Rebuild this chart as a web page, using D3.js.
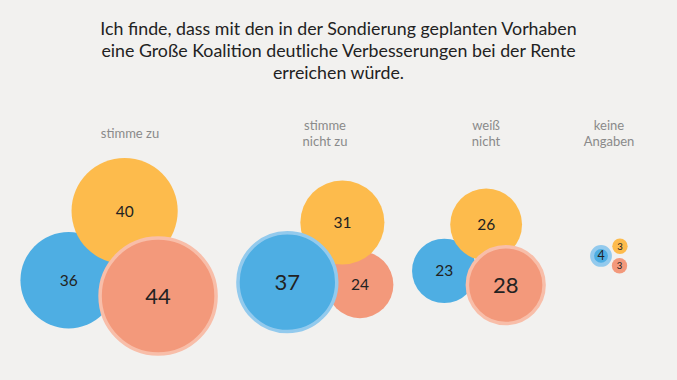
<!DOCTYPE html>
<html>
<head>
<meta charset="utf-8">
<script src="https://cdn.jsdelivr.net/npm/d3@7"></script>
<style>
  html, body { margin: 0; padding: 0; background: #f2f1ef; }
  svg { display: block; font-family: Lato, "Noto Sans", sans-serif; }
</style>
</head>
<body>
<div id="chart"></div>
<script>
// answers (columns)
const categories = ['stimme zu', 'stimme nicht zu', 'weiß nicht', 'keine Angaben'];
const categoryLines = [['stimme zu'], ['stimme', 'nicht zu'], ['weiß', 'nicht'], ['keine', 'Angaben']];

// three series, one value per answer
const blau = [36, 37, 23, 4];
const gelb = [40, 31, 26, 3];
const rot = [44, 24, 28, 3];

const titleLines = [
  'Ich finde, dass mit den in der Sondierung geplanten Vorhaben',
  'eine Große Koalition deutliche Verbesserungen bei der Rente',
  'erreichen würde.',
];

const width = 677;
const height = 380;

const colours = { blau: '#4eaee3', gelb: '#fdbb4c', rot: '#f3997b' };
const rings = { blau: '#93caed', gelb: '#fdd58f', rot: '#f8bea9' };

// layout of the columns and of each cluster
const colX = d3.scaleOrdinal().domain(categories).range([130, 325, 486, 609]);
const tilt = [10, 2, 13, 28];
const clusterY = 256;

const rScale = d3.scaleLinear().domain([0, 44]).range([4, 58]);

const svg = d3.select('#chart').append('svg')
  .attr('width', width)
  .attr('height', height);

svg.append('rect')
  .attr('width', width)
  .attr('height', height)
  .attr('fill', '#f2f1ef');

// title
svg.append('g')
  .selectAll('text')
  .data(titleLines)
  .join('text')
  .attr('x', width / 2)
  .attr('y', (d, i) => 35 + i * 22)
  .attr('text-anchor', 'middle')
  .attr('font-size', 17.8)
  .attr('fill', '#222')
  .text((d) => d);

// column labels
const labels = svg.append('g')
  .selectAll('text')
  .data(categories)
  .join('text')
  .attr('x', (d) => colX(d))
  .attr('y', 133)
  .attr('text-anchor', 'middle')
  .attr('font-size', 13)
  .attr('fill', '#8a8a8a');

labels.selectAll('tspan')
  .data((d, i) => categoryLines[i].map((t, j, arr) => ({ t, dy: (j - (arr.length - 1) / 2) * 16, x: colX(d) })))
  .join('tspan')
  .attr('x', (d) => d.x)
  .attr('y', (d) => 133 + d.dy)
  .attr('dy', '0.35em')
  .text((d) => d.t);

// place three circles: blau left, rot right, gelb on top; overlapping a bit
const dist = (r1, r2, k) => k * (r1 + r2) + 8;

const clusters = categories.map((cat, i) => {
  const nodes = [
    { key: 'blau', value: blau[i] },
    { key: 'gelb', value: gelb[i] },
    { key: 'rot', value: rot[i] },
  ];
  nodes.forEach((n) => { n.r = rScale(n.value); });
  const [a, c, b] = nodes;
  const dab = dist(a.r, b.r, 0.78);
  const dac = dist(a.r, c.r, 0.8);
  const dbc = dist(b.r, c.r, 0.75);
  a.x = 0; a.y = 0;
  b.x = dab; b.y = 0;
  c.x = (dac * dac + dab * dab - dbc * dbc) / (2 * dab);
  c.y = -Math.sqrt(Math.max(0, dac * dac - c.x * c.x));

  const ang = tilt[i] * Math.PI / 180;
  nodes.forEach((n) => {
    const x = n.x * Math.cos(ang) - n.y * Math.sin(ang);
    const y = n.x * Math.sin(ang) + n.y * Math.cos(ang);
    n.x = x; n.y = y;
  });

  const x0 = d3.min(nodes, (n) => n.x - n.r);
  const x1 = d3.max(nodes, (n) => n.x + n.r);
  const y0 = d3.min(nodes, (n) => n.y - n.r);
  const y1 = d3.max(nodes, (n) => n.y + n.r);
  // big clusters sit a little left of their label
  const dx = colX(cat) - 0.06 * (x1 - x0) + (x1 - x0 < 60 ? 3 : 0) - (x0 + x1) / 2;
  const dy = clusterY - (y0 + y1) / 2;
  const maxV = d3.max(nodes, (n) => n.value);
  nodes.forEach((n) => {
    n.x += dx; n.y += dy;
    n.top = n.value === maxV;
  });
  // biggest drawn last
  return nodes.sort((p, q) => p.value - q.value);
});

const groups = svg.append('g')
  .selectAll('g')
  .data(clusters)
  .join('g')
  .attr('class', 'cluster');

const bubbles = groups.selectAll('g')
  .data((d) => d)
  .join('g')
  .attr('transform', (d) => `translate(${d.x},${d.y})`);

bubbles.append('circle')
  .attr('r', (d) => d.r)
  .attr('fill', (d) => colours[d.key])
  .attr('stroke', (d) => (d.top ? rings[d.key] : 'none'))
  .attr('stroke-width', (d) => (d.top ? (d.r < 15 ? 4 : 3.5) : 0));

bubbles.append('text')
  .attr('text-anchor', 'middle')
  .attr('dy', '0.36em')
  .attr('fill', '#222')
  .attr('font-size', (d) => (d.top ? Math.min(22, d.r * 1.4) : Math.min(15.5, d.r * 1.25)))
  .text((d) => d.value);
</script>
</body>
</html>
